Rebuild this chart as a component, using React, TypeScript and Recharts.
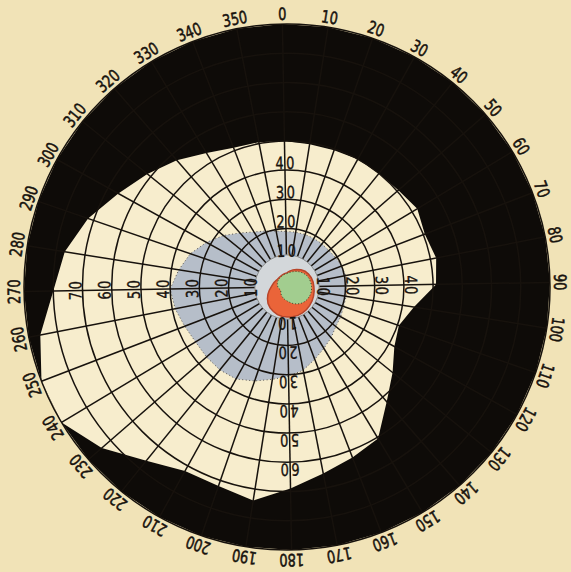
import React from "react";
import { RadarChart, Radar, PolarGrid, PolarAngleAxis, PolarRadiusAxis } from "recharts";

// meridians of the perimeter chart (degrees, clockwise from top)
const meridians = [
  0, 10, 20, 30, 40, 50, 60, 70, 80, 90, 100, 110, 120, 130, 140, 150, 160, 170,
  180, 190, 200, 210, 220, 230, 240, 250, 260, 270, 280, 290, 300, 310, 320, 330, 340, 350,
];

// outer limit of the visual field (degrees of eccentricity)
const fieldLimit = [
  50, 49.5, 49.5, 50, 50, 50.5, 52, 50.5, 52, 51, 44, 40.5, 42, 46.5, 52, 60.5, 62.5, 65,
  69, 74, 72, 72, 76.5, 84, 90, 90, 86, 80, 77, 72, 66, 61.5, 57.5, 53.5, 51, 50.5,
];

// grey (relative) scotoma
const greyLimit = [
  19, 19, 19, 19, 19, 19, 19.5, 20, 20.5, 20.5, 20.5, 20.5, 21, 21.5, 23, 24.5, 26.5, 29,
  30.5, 32, 34, 36, 36.5, 36.5, 36.5, 37.5, 39, 40, 37.5, 35, 31.5, 28, 24.5, 22, 20.5, 19.5,
];

// red field
const redLimit = [
  4.8, 5.5, 6.2, 6.8, 7.6, 8.2, 8.6, 8.9, 9.1, 9.2, 9.4, 9.6, 9.8, 10, 10.2, 10.3, 10.4, 10.4,
  10.3, 10.2, 10, 9.6, 9.2, 8.6, 7.8, 7, 6.2, 5.5, 5, 4.7, 4.4, 4.2, 4.2, 4.3, 4.4, 4.6,
];

// green field
const greenLimit = [
  4.6, 5, 5.5, 6.1, 6.7, 7.3, 7.8, 8.1, 8.3, 8.4, 8.5, 8.4, 8.2, 7.9, 7.4, 6.8, 6.1, 5.4,
  4.8, 4.4, 4, 3.6, 3.2, 2.8, 2.5, 2.5, 2.8, 3.1, 3.3, 3.5, 3.7, 3.8, 3.9, 4, 4.2, 4.4,
];

const perimeterEdge = 90;
const centralRing = 11;

const ringTicks = [0, 10, 20, 30, 40, 50, 60, 70, 80, 90];
const upTicks = [10, 20, 30, 40];
const rightTicks = [10, 20, 30, 40];
const downTicks = [10, 20, 30, 40, 50, 60];
const leftTicks = [10, 20, 30, 40, 50, 60, 70];

const rows = meridians.map((m, i) => ({
  meridian: String(m),
  edge: perimeterEdge,
  field: fieldLimit[i],
  grey: greyLimit[i],
  ring: centralRing,
  red: redLimit[i],
  green: greenLimit[i],
}));

const PAPER = "#F1E3B7";
const BLACK = "#0E0B08";
const FIELD = "#F7EDCD";
const GREY = "#B6BEC9";
const RING = "#D3D7DA";
const RED = "#EA6439";
const GREEN = "#A2CD8F";
const INK = "#17120D";
const TILT = 1; // the plate is turned slightly anticlockwise
const FONT = "'DejaVu Sans Condensed', 'DejaVu Sans', sans-serif";

function RimLabel(props: any) {
  const { x, y, payload } = props;
  const rot = 90 - payload.coordinate;
  return (
    <g transform={`translate(${x} ${y}) rotate(${rot}) scale(0.85 1)`}>
      <text
        x={0} y={0}
        textAnchor="middle" dominantBaseline="central"
        fontFamily={FONT} fontSize={17} fill={INK} stroke={INK} strokeWidth={0.5}
      >
        {payload.value}
      </text>
    </g>
  );
}

function ringLabel(angle: number) {
  const rad = (angle * Math.PI) / 180;
  const ux = Math.cos(rad);
  const uy = -Math.sin(rad);
  return (props: any) => {
    const { x, y, payload } = props;
    const px = x + ux * 7;
    const py = y + uy * 7;
    return (
      <g transform={`translate(${px} ${py}) rotate(${90 - angle}) scale(0.85 1)`}>
        <text
          x={1.5} y={0}
          textAnchor="middle" dominantBaseline="central"
          fontFamily={FONT} fontSize={17} letterSpacing={3} fill={INK} stroke={INK} strokeWidth={0.35}
        >
          {payload.value}
        </text>
      </g>
    );
  };
}

export default function App() {
  return (
    <div style={{ position: "fixed", left: 0, top: 0, width: 571, height: 572, background: PAPER }}>
      <RadarChart
        width={571} height={572} data={rows}
        cx={287} cy={287} outerRadius={263}
        startAngle={90 + TILT} endAngle={-270 + TILT}
        margin={{ top: 0, right: 0, bottom: 0, left: 0 }}
      >
        <Radar dataKey="edge" radiusAxisId="left" fill={BLACK} fillOpacity={1} stroke="none"
          isAnimationActive={false} dot={false} zIndex={100} />
        <Radar dataKey="field" radiusAxisId="down" fill={FIELD} fillOpacity={1} stroke="none"
          isAnimationActive={false} dot={false} zIndex={100} />
        <Radar dataKey="grey" radiusAxisId="up" fill={GREY} fillOpacity={1} stroke="#5a5650" strokeWidth={1}
          strokeDasharray="1 2.5" isAnimationActive={false} dot={false} zIndex={100} />
        <PolarGrid gridType="circle" stroke={INK} strokeWidth={1.5} strokeOpacity={1} zIndex={150} />
        <Radar dataKey="ring" radiusAxisId="right" fill={RING} fillOpacity={1} stroke="#8a8c8c" strokeWidth={1}
          isAnimationActive={false} dot={false} zIndex={200} />
        <Radar dataKey="red" fill={RED} fillOpacity={1} stroke="#b8452a" strokeWidth={1.5}
          isAnimationActive={false} dot={false} zIndex={210} />
        <Radar dataKey="green" fill={GREEN} fillOpacity={1} stroke="#3c4a2c" strokeWidth={1}
          strokeDasharray="1 2" isAnimationActive={false} dot={false} zIndex={220} />
        <PolarAngleAxis dataKey="meridian" tick={RimLabel} tickSize={10}
          axisLine={false} tickLine={false} />
        <PolarRadiusAxis domain={[0, 90]} ticks={ringTicks} tickCount={10}
          tick={false} axisLine={false} tickLine={false} />
        <PolarRadiusAxis radiusAxisId="up" angle={90 + TILT} domain={[0, 90]} ticks={upTicks}
          tick={ringLabel(90 + TILT)} axisLine={false} tickLine={false} zIndex={600} />
        <PolarRadiusAxis radiusAxisId="right" angle={TILT} domain={[0, 90]} ticks={rightTicks}
          tick={ringLabel(TILT)} axisLine={false} tickLine={false} zIndex={600} />
        <PolarRadiusAxis radiusAxisId="down" angle={-90 + TILT} domain={[0, 90]} ticks={downTicks}
          tick={ringLabel(-90 + TILT)} axisLine={false} tickLine={false} zIndex={600} />
        <PolarRadiusAxis radiusAxisId="left" angle={180 + TILT} domain={[0, 90]} ticks={leftTicks}
          tick={ringLabel(180 + TILT)} axisLine={false} tickLine={false} zIndex={600} />
      </RadarChart>
    </div>
  );
}
